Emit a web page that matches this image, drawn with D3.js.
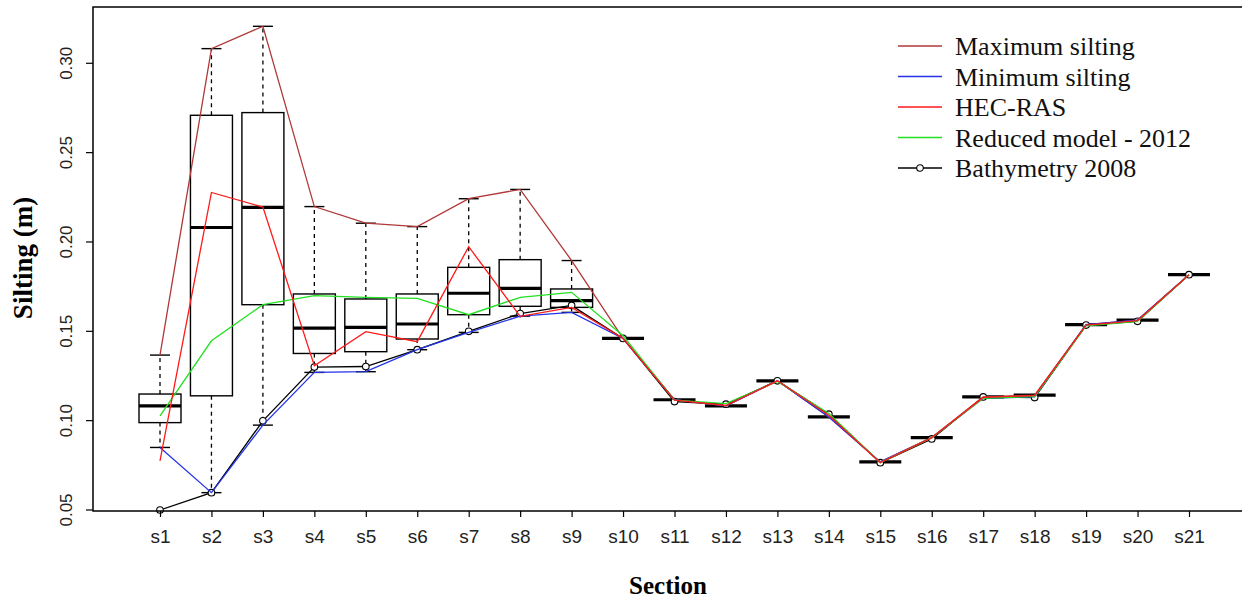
<!DOCTYPE html>
<html>
<head>
<meta charset="utf-8">
<script src="https://cdn.jsdelivr.net/npm/d3@7"></script>
<style>
  body { margin: 0; background: #fff; }
  svg { display: block; }
</style>
</head>
<body>
<div id="chart"></div>
<script>
// sections along the river
const sections = ["s1","s2","s3","s4","s5","s6","s7","s8","s9","s10","s11","s12","s13","s14","s15","s16","s17","s18","s19","s20","s21"];

// boxplot stats per section (lower whisker, Q1, median, Q3, upper whisker)
const boxLow  = [0.085, 0.0597, 0.0975, 0.127, 0.1274, 0.1397, 0.1494, 0.1585, 0.1606, 0.146, 0.1117, 0.1083, 0.1223, 0.1021, 0.0769, 0.0905, 0.1133, 0.1143, 0.1537, 0.1563, 0.1817];
const boxQ1   = [0.0989, 0.1139, 0.1649, 0.1376, 0.1386, 0.1457, 0.1593, 0.1640, 0.1634, 0.146, 0.1117, 0.1083, 0.1223, 0.1021, 0.0769, 0.0905, 0.1133, 0.1143, 0.1537, 0.1563, 0.1817];
const boxMed  = [0.1083, 0.2081, 0.2194, 0.1518, 0.1522, 0.1541, 0.1713, 0.1740, 0.1672, 0.146, 0.1117, 0.1083, 0.1223, 0.1021, 0.0769, 0.0905, 0.1133, 0.1143, 0.1537, 0.1563, 0.1817];
const boxQ3   = [0.1149, 0.2709, 0.2724, 0.1709, 0.1681, 0.1709, 0.1858, 0.1901, 0.1737, 0.146, 0.1117, 0.1083, 0.1223, 0.1021, 0.0769, 0.0905, 0.1133, 0.1143, 0.1537, 0.1563, 0.1817];
const boxHigh = [0.1367, 0.3082, 0.3207, 0.2198, 0.2105, 0.2086, 0.2242, 0.2294, 0.1896, 0.146, 0.1117, 0.1083, 0.1223, 0.1021, 0.0769, 0.0905, 0.1133, 0.1143, 0.1537, 0.1563, 0.1817];

// line series
const maxSilting = [0.1367, 0.3082, 0.3207, 0.2198, 0.2105, 0.2086, 0.2242, 0.2294, 0.1896, 0.146, 0.1117, 0.1083, 0.1223, 0.1021, 0.0769, 0.0905, 0.1133, 0.1143, 0.1537, 0.1563, 0.1817];
const minSilting = [0.085, 0.0597, 0.0975, 0.127, 0.1274, 0.1397, 0.1494, 0.1585, 0.1606, 0.146, 0.1117, 0.1083, 0.1223, 0.1021, 0.0769, 0.0905, 0.1125, 0.1133, 0.1537, 0.1563, 0.1817];
const hecRas     = [0.0775, 0.2277, 0.2195, 0.1307, 0.1498, 0.1442, 0.1974, 0.1584, 0.1634, 0.146, 0.1115, 0.1085, 0.1223, 0.103, 0.0765, 0.0905, 0.113, 0.114, 0.1535, 0.156, 0.1817];
const reduced    = [0.1027, 0.1447, 0.1649, 0.170, 0.169, 0.1684, 0.1593, 0.169, 0.1718, 0.1475, 0.1115, 0.1095, 0.122, 0.104, 0.0765, 0.0905, 0.1125, 0.1135, 0.153, 0.1555, 0.1817];
const bathy2008  = [0.05, 0.0597, 0.0999, 0.130, 0.1303, 0.1397, 0.150, 0.1599, 0.1645, 0.146, 0.1107, 0.1092, 0.1223, 0.1036, 0.0765, 0.0898, 0.1133, 0.1129, 0.1535, 0.1556, 0.1817];

const yTicks = [0.05, 0.10, 0.15, 0.20, 0.25, 0.30];

const legendItems = [
  {label: "Maximum silting", color: "#b03838", data: maxSilting, order: 1},
  {label: "Minimum silting", color: "#2433e8", data: minSilting, order: 2},
  {label: "HEC-RAS", color: "#ff1a1a", data: hecRas, order: 4},
  {label: "Reduced model - 2012", color: "#22e022", data: reduced, order: 3},
  {label: "Bathymetry 2008", color: "#000", data: bathy2008, points: true, order: 0}
];

const width = 1242, height = 600;
const plot = {left: 93, right: 1262, top: 7, bottom: 511};

const svg = d3.select("#chart").append("svg")
  .attr("width", width)
  .attr("height", height);

const x = d3.scalePoint().domain(sections).range([160, 1189]);
const y = d3.scaleLinear().domain([0.05, 0.3315]).range([510, plot.top]);

const boxHalf = 21, capHalf = 10;

// boxplots
const boxes = svg.append("g")
  .selectAll("g")
  .data(sections.map((s, i) => ({s, lo: boxLow[i], q1: boxQ1[i], med: boxMed[i], q3: boxQ3[i], hi: boxHigh[i]})))
  .join("g")
    .attr("transform", d => `translate(${x(d.s)},0)`);

boxes.append("line") // upper whisker
  .attr("y1", d => y(d.q3)).attr("y2", d => y(d.hi))
  .attr("stroke", "#000").attr("stroke-width", 1.3).attr("stroke-dasharray", "4,4");
boxes.append("line") // lower whisker
  .attr("y1", d => y(d.q1)).attr("y2", d => y(d.lo))
  .attr("stroke", "#000").attr("stroke-width", 1.3).attr("stroke-dasharray", "4,4");
boxes.append("line")
  .attr("x1", -capHalf).attr("x2", capHalf)
  .attr("y1", d => y(d.hi)).attr("y2", d => y(d.hi))
  .attr("stroke", "#000").attr("stroke-width", 1.4);
boxes.append("line")
  .attr("x1", -capHalf).attr("x2", capHalf)
  .attr("y1", d => y(d.lo)).attr("y2", d => y(d.lo))
  .attr("stroke", "#000").attr("stroke-width", 1.4);
boxes.append("rect")
  .attr("x", -boxHalf).attr("width", boxHalf * 2)
  .attr("y", d => y(d.q3)).attr("height", d => y(d.q1) - y(d.q3))
  .attr("fill", "none").attr("stroke", "#000").attr("stroke-width", 1.4);
boxes.append("line")
  .attr("x1", -boxHalf).attr("x2", boxHalf)
  .attr("y1", d => y(d.med)).attr("y2", d => y(d.med))
  .attr("stroke", "#000").attr("stroke-width", 3.2);

// lines
const line = d3.line()
  .x((d, i) => x(sections[i]))
  .y(d => y(d));

legendItems.slice().sort((a, b) => a.order - b.order).forEach(item => {
  svg.append("path")
    .datum(item.data)
    .attr("fill", "none")
    .attr("stroke", item.color)
    .attr("stroke-width", 1.3)
    .attr("d", line);
  if (item.points) {
    svg.append("g").selectAll("circle")
      .data(item.data)
      .join("circle")
        .attr("cx", (d, i) => x(sections[i]))
        .attr("cy", d => y(d))
        .attr("r", 3.3)
        .attr("fill", "#fff")
        .attr("stroke", "#000")
        .attr("stroke-width", 1.1);
  }
});

// frame
svg.append("rect")
  .attr("x", plot.left).attr("y", plot.top)
  .attr("width", plot.right - plot.left).attr("height", plot.bottom - plot.top)
  .attr("fill", "none").attr("stroke", "#000").attr("stroke-width", 1.5);

// y axis
const yAxis = svg.append("g");
yAxis.selectAll("line")
  .data(yTicks)
  .join("line")
    .attr("x1", plot.left - 7).attr("x2", plot.left)
    .attr("y1", d => y(d)).attr("y2", d => y(d))
    .attr("stroke", "#000").attr("stroke-width", 1.2);
yAxis.selectAll("text")
  .data(yTicks)
  .join("text")
    .attr("transform", d => `translate(72,${y(d)}) rotate(-90)`)
    .attr("text-anchor", "middle")
    .style("font-family", "'Liberation Sans', Arial, sans-serif")
    .style("font-size", "17px")
    .attr("fill", "#222")
    .text(d => d3.format(".2f")(d));

// x axis
const xAxis = svg.append("g")
  .attr("transform", `translate(0,${plot.bottom})`)
  .call(d3.axisBottom(x).tickSize(6).tickPadding(13));
xAxis.select(".domain").remove();
xAxis.selectAll(".tick line").attr("stroke", "#000").attr("stroke-width", 1.2);
xAxis.selectAll(".tick text")
  .style("font-family", "'Liberation Sans', Arial, sans-serif")
  .style("font-size", "19px")
  .attr("fill", "#222");

// axis titles
svg.append("text")
  .attr("x", 668).attr("y", 594)
  .attr("text-anchor", "middle")
  .style("font-family", "'Liberation Serif', 'Times New Roman', serif")
  .style("font-weight", "bold")
  .style("font-size", "25px")
  .text("Section");

svg.append("text")
  .attr("transform", "translate(32,258) rotate(-90)")
  .attr("text-anchor", "middle")
  .style("font-family", "'Liberation Serif', 'Times New Roman', serif")
  .style("font-weight", "bold")
  .style("font-size", "27px")
  .text("Silting (m)");

// legend
const legend = svg.append("g")
  .selectAll("g")
  .data(legendItems)
  .join("g")
    .attr("transform", (d, i) => `translate(898,${46 + i * 30.5})`);
legend.append("line")
  .attr("x1", 0).attr("x2", 44)
  .attr("stroke", d => d.color).attr("stroke-width", 1.3);
legend.filter(d => d.points).append("circle")
  .attr("cx", 22).attr("r", 3.3)
  .attr("fill", "#fff").attr("stroke", "#000").attr("stroke-width", 1.1);
legend.append("text")
  .attr("x", 57).attr("dy", "0.35em")
  .style("font-family", "'Liberation Serif', 'Times New Roman', serif")
  .style("font-size", "26px")
  .attr("fill", "#111")
  .text(d => d.label);
</script>
</body>
</html>
